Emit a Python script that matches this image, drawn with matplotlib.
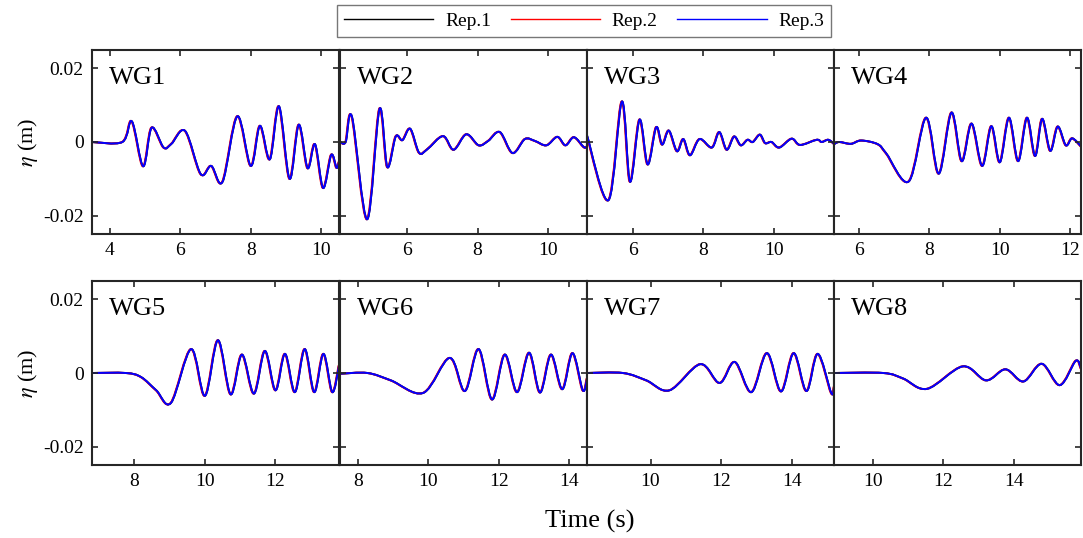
# Wave gauge surface elevation, 3 repetitions
import numpy as np
import matplotlib.pyplot as plt
from matplotlib.path import Path
from matplotlib.patches import PathPatch
from matplotlib.lines import Line2D
from matplotlib.ticker import FixedLocator, FixedFormatter

plt.rcParams['font.family'] = ['Liberation Serif', 'DejaVu Serif']
plt.rcParams['mathtext.fontset'] = 'stix'

# gauge names and time windows (s)
gauges = ['WG1', 'WG2', 'WG3', 'WG4', 'WG5', 'WG6', 'WG7', 'WG8']
xlims = [(3.5, 10.5), (4.1, 11.1), (4.7, 11.7), (5.3, 12.3),
         (6.8, 13.8), (7.5, 14.5), (8.2, 15.2), (8.9, 15.9)]
xticks = [[4, 6, 8, 10], [6, 8, 10], [6, 8, 10], [6, 8, 10, 12],
          [8, 10, 12], [8, 10, 12, 14], [10, 12, 14], [10, 12, 14]]

# read-off points of eta (m) vs time (s)
t1 = [3.5, 4.36, 4.63, 4.95, 5.19, 5.53, 5.75, 6.14, 6.58, 6.88, 7.2, 7.62,
      8.0, 8.26, 8.54, 8.80, 9.10, 9.36, 9.61, 9.82, 10.05, 10.28, 10.43, 10.5]
e1 = [0, 0, 0.0056, -0.0066, 0.0039, -0.0015, -0.0005, 0.003, -0.0087,
      -0.0065, -0.0108, 0.007, -0.0065, 0.0044, -0.0047, 0.0097, -0.010,
      0.0047, -0.0071, -0.0006, -0.0125, -0.0035, -0.007, -0.0054]
t2 = [4.1, 4.26, 4.44, 4.87, 5.22, 5.44, 5.68, 5.87, 6.09, 6.34, 6.57, 7.02,
      7.32, 7.68, 8.03, 8.30, 8.63, 8.99, 9.34, 9.62, 9.95, 10.26, 10.49,
      10.73, 11.01, 11.1]
e2 = [0, 0, 0.0068, -0.021, 0.009, -0.0068, 0.0015, 0.0005, 0.0036, -0.0029,
      -0.002, 0.0016, -0.0021, 0.0021, -0.0009, 0.0003, 0.0027, -0.003,
      0.0008, 0.0003, -0.0009, 0.0014, -0.0009, 0.0013, -0.0014, -0.0012]
t3 = [4.7, 5.31, 5.69, 5.92, 6.19, 6.42, 6.66, 6.83, 7.02, 7.25, 7.43, 7.62,
      7.89, 8.24, 8.45, 8.66, 8.87, 9.06, 9.25, 9.40, 9.60, 9.75, 9.93, 10.15,
      10.5, 10.74, 11.21, 11.35, 11.54, 11.7]
e3 = [0.0018, -0.0158, 0.011, -0.0108, 0.0061, -0.0061, 0.004, -0.0007,
      0.0031, -0.0025, 0.0008, -0.0036, 0.0008, -0.0015, 0.0027, -0.0021,
      0.0015, -0.0009, 0.0006, 0.0, 0.002, -0.0003, 0.0, -0.0015, 0.0009,
      -0.0008, 0.0006, 0.0, 0.0006, -0.0005]
t4 = [5.3, 5.45, 5.78, 6.07, 6.54, 6.78, 7.42, 7.91, 8.27, 8.63, 8.92, 9.20,
      9.50, 9.76, 10.0, 10.26, 10.52, 10.77, 11.0, 11.2, 11.43, 11.64, 11.87,
      12.05, 12.3]
e4 = [-0.0006, 0.0, -0.0005, 0.0004, -0.0006, -0.0031, -0.0107, 0.0066,
      -0.0086, 0.008, -0.0052, 0.005, -0.0065, 0.0043, -0.0055, 0.0066,
      -0.0052, 0.0066, -0.0038, 0.0063, -0.0024, 0.0042, -0.0009, 0.001,
      -0.0012]
t5 = [6.8, 7.76, 8.19, 8.62, 9.04, 9.61, 10.0, 10.37, 10.73, 11.05, 11.39,
      11.70, 12.0, 12.27, 12.55, 12.83, 13.10, 13.36, 13.61, 13.8]
e5 = [0, 0, -0.0011, -0.0047, -0.0081, 0.0065, -0.0062, 0.0089, -0.0058,
      0.005, -0.0056, 0.006, -0.0047, 0.0052, -0.0052, 0.0065, -0.0052,
      0.0052, -0.0052, 0.002]
t6 = [7.5, 8.28, 8.94, 9.86, 10.61, 11.04, 11.43, 11.81, 12.17, 12.52, 12.86,
      13.17, 13.48, 13.80, 14.09, 14.38, 14.5]
e6 = [-0.0002, 0, -0.002, -0.0054, 0.0041, -0.0049, 0.0065, -0.0072, 0.005,
      -0.0052, 0.0055, -0.0053, 0.005, -0.0044, 0.0054, -0.0047, -0.0015]
t7 = [8.2, 9.22, 9.88, 10.54, 11.41, 11.96, 12.39, 12.86, 13.30, 13.70, 14.06,
      14.42, 14.74, 15.12, 15.2]
e7 = [0, 0, -0.002, -0.0047, 0.0024, -0.0027, 0.003, -0.0052, 0.0054,
      -0.005, 0.0054, -0.0049, 0.0052, -0.0054, -0.0038]
t8 = [8.9, 10.3, 10.86, 11.54, 12.55, 13.21, 13.76, 14.27, 14.79, 15.30,
      15.75, 15.9]
e8 = [0, 0, -0.0015, -0.0043, 0.0018, -0.002, 0.001, -0.0023, 0.0025,
      -0.0033, 0.0033, 0.0012]

times = [t1, t2, t3, t4, t5, t6, t7, t8]
etas = [e1, e2, e3, e4, e5, e6, e7, e8]

reps = ['Rep.1', 'Rep.2', 'Rep.3']
rep_colors = ['black', 'red', 'blue']
rep_shift = [0.0, -0.012, 0.0]   # small lag seen between repeats (s)


def smooth_path(x, y):
    # curve through every read point, drawn as cubic bezier segments
    p = np.column_stack([x, y])
    q = np.vstack([p[:1], p, p[-1:]])
    verts = [p[0]]
    codes = [Path.MOVETO]
    for i in range(1, len(q) - 2):
        c1 = q[i] + (q[i + 1] - q[i - 1]) / 6
        c2 = q[i + 1] - (q[i + 2] - q[i]) / 6
        verts += [c1, c2, q[i + 1]]
        codes += [Path.CURVE4] * 3
    return Path(verts, codes)


fig = plt.figure(figsize=(10.83, 5.38), dpi=100)
W, H = 1083, 538
col_x = [92, 340, 587, 834]
col_w = 247
row_top = [50, 281]
row_h = 184
spine_c = '#262626'

for k in range(8):
    r, c = divmod(k, 4)
    ax = fig.add_axes([col_x[c] / W, 1 - (row_top[r] + row_h) / H,
                       col_w / W, row_h / H])
    for j in range(3):
        path = smooth_path(np.array(times[k]) + rep_shift[j], etas[k])
        ax.add_patch(PathPatch(path, facecolor='none',
                               edgecolor=rep_colors[j], lw=1.4,
                               joinstyle='round', capstyle='round'))
    ax.set_xlim(*xlims[k])
    ax.set_ylim(-0.025, 0.025)
    ax.xaxis.set_major_locator(FixedLocator(xticks[k]))
    ax.yaxis.set_major_locator(FixedLocator([-0.02, 0, 0.02]))
    if c == 0:
        ax.yaxis.set_major_formatter(FixedFormatter(['-0.02', '0', '0.02']))
        ax.set_ylabel(r'$\eta$ (m)', fontsize=16, labelpad=2)
    else:
        ax.set_yticklabels([])
    ax.tick_params(direction='in', top=True, right=True, length=4,
                   width=1.2, color=spine_c, labelsize=14, pad=6)
    for s in ax.spines.values():
        s.set_linewidth(1.5)
        s.set_color(spine_c)
    ax.text(0.07, 0.85, gauges[k], transform=ax.transAxes, fontsize=19,
            va='center', ha='left')

fig.text(590 / W, 1 - 521 / H, 'Time (s)', fontsize=19, ha='center',
         va='center')

handles = [Line2D([], [], color=col, lw=1.0) for col in rep_colors]
leg = fig.legend(handles, reps, loc='center', ncol=3,
                 bbox_to_anchor=(584 / W, 1 - 21 / H), fontsize=14,
                 frameon=True, fancybox=False, edgecolor='#555555',
                 handlelength=4.6, handletextpad=0.6, columnspacing=1.0,
                 borderpad=0.35)
leg.get_frame().set_linewidth(1.0)

fig.savefig('out.png', dpi=100)
